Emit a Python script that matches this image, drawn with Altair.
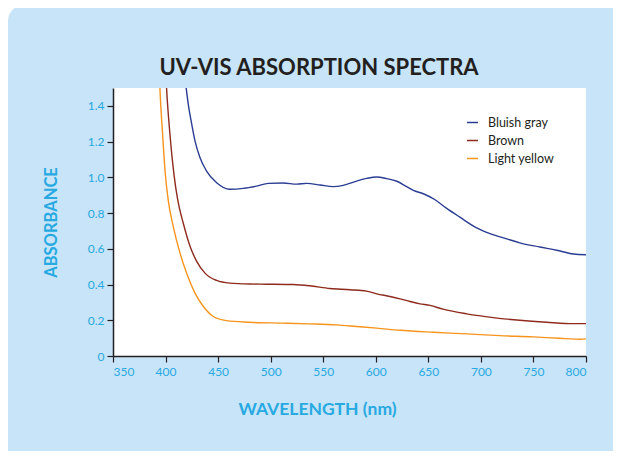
import altair as alt
import pandas as pd

series_names = ["Bluish gray", "Brown", "Light yellow"]
series_colors = ["#2B3C93", "#8E2B1E", "#F7941D"]
title_text = "UV-VIS ABSORPTION SPECTRA"

blue_wl = [418.5, 419.5, 421.6, 424.9, 428, 432.8, 439, 448.6, 461, 474, 486.7, 497.8, 512, 524.8, 534.3, 547,
           559.6, 569, 581.8, 591.4, 600.9, 610.4, 620, 629.3, 635.7, 645.2, 656, 667.5, 680, 696, 708.7,
           724.6, 737, 756, 772, 788, 800]
blue_ab = [1.56, 1.506, 1.41, 1.298, 1.204, 1.11, 1.035, 0.97, 0.933, 0.938, 0.951, 0.966, 0.968, 0.962, 0.966, 0.957,
           0.948, 0.955, 0.979, 0.994, 1.002, 0.993, 0.978, 0.948, 0.927, 0.908, 0.876, 0.826, 0.777, 0.717, 0.685,
           0.656, 0.633, 0.61, 0.592, 0.571, 0.567]

brown_wl = [400.5, 401, 404.2, 408, 411.5, 417, 423.3, 429.6, 437.5, 448.6, 461, 480, 496, 521.5, 537, 556.4,
            575.5, 591, 601, 613.5, 623, 632.6, 642, 651.6, 664, 686.5, 711.8, 737, 762.6, 788, 800]
brown_ab = [1.55, 1.494, 1.24, 1.017, 0.876, 0.74, 0.614, 0.53, 0.464, 0.423, 0.408, 0.403, 0.402, 0.40, 0.393, 0.378,
            0.371, 0.363, 0.348, 0.333, 0.32, 0.305, 0.292, 0.283, 0.262, 0.236, 0.215, 0.20, 0.189, 0.181, 0.181]

yellow_wl = [394.3, 394.7, 397.2, 399.8, 402.6, 407.3, 413.7, 420, 428, 436, 445.4, 458, 480,
             512, 537, 562.7, 581.8, 600.9, 623, 654.7, 686.5, 718, 750, 775, 795, 800]
yellow_ab = [1.55, 1.49, 1.24, 1.017, 0.87, 0.726, 0.577, 0.464, 0.352, 0.277, 0.221, 0.198, 0.189,
             0.184, 0.18, 0.174, 0.165, 0.156, 0.144, 0.133, 0.124, 0.114, 0.107, 0.099, 0.094, 0.096]

x_ticks = [350, 400, 450, 500, 550, 600, 650, 700, 750, 800]
y_ticks = [0, 0.2, 0.4, 0.6, 0.8, 1.0, 1.2, 1.4]

rows = []
for name, wl, ab in zip(series_names, [blue_wl, brown_wl, yellow_wl], [blue_ab, brown_ab, yellow_ab]):
    for i, (w, a) in enumerate(zip(wl, ab)):
        rows.append({"series": name, "wl": w, "ab": a, "order": i})
df = pd.DataFrame(rows)

cyan = "#27A9E1"
panel = "#C8E4F8"

one = pd.DataFrame({"k": [0]})

panel_rect = alt.Chart(one).mark_rect(color=panel, cornerRadius=16).encode(
    x=alt.value(-105), x2=alt.value(530), y=alt.value(-83), y2=alt.value(400)
)
plot_rect = alt.Chart(one).mark_rect(color="white").encode(
    x=alt.value(0), x2=alt.value("width"), y=alt.value(0), y2=alt.value("height")
)
title_mark = alt.Chart(one).mark_text(
    text=title_text, font="Lato", fontSize=22, fontWeight="bold", color="#231F20",
    align="center", baseline="alphabetic"
).encode(x=alt.value(206), y=alt.value(-13))

lines = alt.Chart(df).mark_line(strokeWidth=1.4, clip=True, interpolate="monotone").encode(
    x=alt.X("wl:Q", scale=alt.Scale(domain=[350, 800], nice=False, zero=False),
            axis=alt.Axis(values=x_ticks, title="WAVELENGTH (nm)", titleX=204, titleY=58,
                          titleBaseline="alphabetic", titleAnchor="start", titleAlign="center",
                          titleFontSize=17.5, labelPadding=4, zindex=2)),
    y=alt.Y("ab:Q", scale=alt.Scale(domain=[0, 1.5], nice=False),
            axis=alt.Axis(values=y_ticks, title="ABSORBANCE", titleX=-57, titleY=134,
                          titleBaseline="alphabetic", titleAngle=-90, titleAlign="center",
                          labelExpr="datum.value == 0 ? '0' : format(datum.value, '.1f')",
                          zindex=2)),
    color=alt.Color("series:N", scale=alt.Scale(domain=series_names, range=series_colors),
                    legend=alt.Legend(title=None, orient="none", legendX=353, legendY=28,
                                      symbolType="stroke", symbolSize=121, symbolStrokeWidth=1.5,
                                      labelOffset=9, labelFontSize=12.5, labelColor="#231F20",
                                      labelFont="Lato", rowPadding=5, padding=0, zindex=2)),
    order="order:Q",
)

chart = alt.layer(panel_rect, plot_rect, title_mark, lines).properties(
    width=473, height=268,
    autosize=alt.AutoSizeParams(type="none"),
    padding={"left": 105, "top": 80, "right": 27, "bottom": 95},
    background="white",
).configure_view(fill="white", stroke=None).configure_axis(
    grid=False, domainColor="#231F20", domainWidth=1.5, tickColor="#231F20", tickWidth=1.2, tickSize=6,
    labelColor=cyan, labelFont="Lato", labelFontSize=12, labelPadding=3,
    titleColor=cyan, titleFont="Lato", titleFontSize=16.5, titleFontWeight="bold",
)

chart.save("out.html", embed_options={"renderer": "svg", "actions": False})
